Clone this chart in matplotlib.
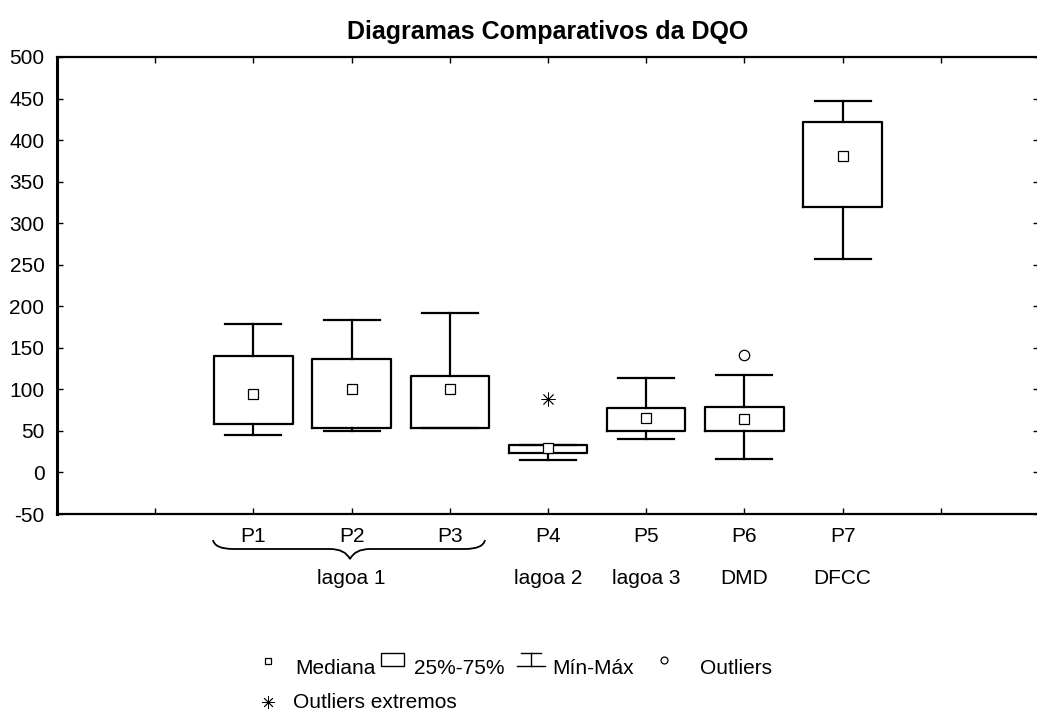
import matplotlib.pyplot as plt
from matplotlib.path import Path
from matplotlib.patches import PathPatch, Rectangle
from matplotlib.transforms import blended_transform_factory

plt.rcParams['font.family'] = ['Liberation Sans', 'DejaVu Sans']
plt.rcParams['axes.unicode_minus'] = False

# data
points = ['P1', 'P2', 'P3', 'P4', 'P5', 'P6', 'P7']
groups = ['lagoa 1', 'lagoa 2', 'lagoa 3', 'DMD', 'DFCC']
group_pos = [3, 5, 6, 7, 8]
positions = [2, 3, 4, 5, 6, 7, 8]
medians = [95, 100, 100, 30, 66, 64, 381]
q1 = [58, 53, 54, 23, 50, 50, 320]
q3 = [140, 136, 116, 33, 77, 79, 422]
mins = [45, 50, 53, 15, 40, 16, 257]
maxs = [179, 183, 192, 33, 114, 117, 447]
outlier_pos = [7]
outlier_val = [141]
extreme_pos = [5]
extreme_val = [89]

FS = 15

fig = plt.figure(figsize=(10.37, 7.11), dpi=100)
ax = fig.add_axes([57 / 1037, 1 - 514 / 711, 982 / 1037, 457 / 711])

stats = []
for i in range(len(points)):
    stats.append(dict(med=medians[i], mean=medians[i], q1=q1[i], q3=q3[i],
                      whislo=mins[i], whishi=maxs[i], fliers=[], label=points[i]))

ax.bxp(stats, positions=positions, widths=0.8, capwidths=0.57, showmeans=True,
       showfliers=False,
       boxprops=dict(color='black', linewidth=1.6),
       whiskerprops=dict(color='black', linewidth=1.6),
       capprops=dict(color='black', linewidth=1.6),
       medianprops=dict(linewidth=0),
       meanprops=dict(marker='s', markersize=7.5, markerfacecolor='white',
                      markeredgecolor='black', markeredgewidth=0.9))

ax.plot(outlier_pos, outlier_val, 'o', markersize=7.5, markerfacecolor='white',
        markeredgecolor='black', markeredgewidth=0.9)
ax.plot(extreme_pos, extreme_val, marker=(8, 2, 0), linestyle='none', markersize=10,
        color='black', markeredgewidth=0.6)

ax.set_xlim(0, 10)
ax.set_ylim(-50, 500)
ax.set_yticks(range(-50, 501, 50))
ax.set_xticks(range(1, 10))
ax.set_xticklabels([''] + points + [''])
ax.tick_params(direction='in', length=4, width=1, top=True, right=True,
               labelsize=FS)
ax.tick_params(axis='y', pad=9)
ax.tick_params(axis='x', pad=9)
ax.spines['left'].set_linewidth(2.2)
for s in ['bottom', 'top', 'right']:
    ax.spines[s].set_linewidth(1.6)

ax.set_title('Diagramas Comparativos da DQO', fontsize=18, fontweight='bold', pad=13)

trans = blended_transform_factory(ax.transData, fig.transFigure)
for name, xp in zip(groups, group_pos):
    ax.text(xp, 1 - 578 / 711, name, transform=trans, ha='center', va='center',
            fontsize=FS)

# overlay in pixel coordinates for brace and legend
ov = fig.add_axes([0, 0, 1, 1])
ov.set_xlim(0, 1037)
ov.set_ylim(711, 0)
ov.axis('off')

x0, x1, xm = 213, 485, 350
yt, ym, yb = 540, 549, 559
verts = [(x0, yt), (x0 + 2, ym), (x0 + 20, ym), (x0 + 40, ym),
         (xm - 20, ym), (xm - 5, ym), (xm, yb),
         (xm + 5, ym), (xm + 20, ym),
         (x1 - 40, ym), (x1 - 20, ym), (x1 - 2, ym), (x1, yt)]
codes = [Path.MOVETO, Path.CURVE3, Path.CURVE3, Path.LINETO,
         Path.LINETO, Path.CURVE3, Path.CURVE3,
         Path.CURVE3, Path.CURVE3,
         Path.LINETO, Path.LINETO, Path.CURVE3, Path.CURVE3]
ov.add_patch(PathPatch(Path(verts, codes), facecolor='none', edgecolor='black', lw=1.3))

# legend
ly = 668
ov.plot([268], [ly - 7], 's', markersize=5, markerfacecolor='white',
        markeredgecolor='black', markeredgewidth=0.9)
ov.text(295, ly, 'Mediana', fontsize=FS, va='center')
ov.add_patch(Rectangle((381, ly - 15), 23, 13, facecolor='white', edgecolor='black', lw=1))
ov.text(414, ly, '25%-75%', fontsize=FS, va='center')
ov.plot([521, 541], [ly - 15, ly - 15], color='black', lw=1)
ov.plot([531, 531], [ly - 15, ly - 2], color='black', lw=1)
ov.plot([517, 545], [ly - 2, ly - 2], color='black', lw=1)
ov.text(552, ly, 'Mín-Máx', fontsize=FS, va='center')
ov.plot([664], [ly - 8], 'o', markersize=5, markerfacecolor='white',
        markeredgecolor='black', markeredgewidth=0.9)
ov.text(700, ly, 'Outliers', fontsize=FS, va='center')
ly2 = 703
ov.plot([268], [ly2 - 1], marker=(8, 2, 0), linestyle='none', markersize=9,
        color='black', markeredgewidth=0.6)
ov.text(293, ly2, 'Outliers extremos', fontsize=FS, va='center')

fig.savefig('out.png', dpi=100)
